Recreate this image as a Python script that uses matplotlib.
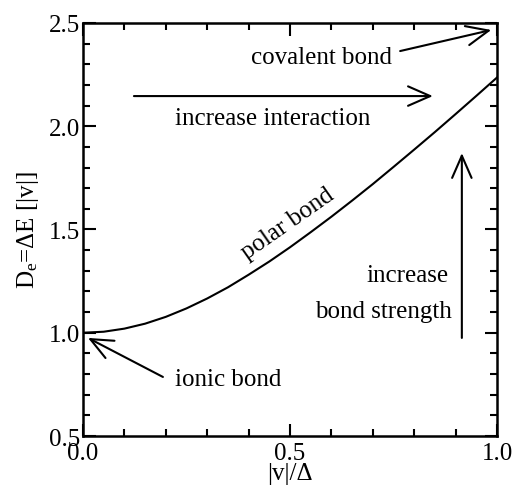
import numpy as np
import matplotlib
matplotlib.use("Agg")
import matplotlib.pyplot as plt
from matplotlib.ticker import MultipleLocator

plt.rcParams['font.family'] = ['Liberation Serif', 'DejaVu Serif']
plt.rcParams['mathtext.fontset'] = 'custom'
plt.rcParams['mathtext.rm'] = 'Liberation Serif'
plt.rcParams['mathtext.it'] = 'Liberation Serif:italic'

# curve values
x_vals = [0.0, 0.05, 0.1, 0.15, 0.2, 0.25, 0.3, 0.35, 0.4, 0.45, 0.5,
          0.55, 0.6, 0.65, 0.7, 0.75, 0.8, 0.85, 0.9, 0.95, 1.0]
y_vals = [1.0, 1.005, 1.02, 1.044, 1.077, 1.118, 1.166, 1.22, 1.281, 1.345, 1.414,
          1.487, 1.562, 1.64, 1.72, 1.803, 1.887, 1.972, 2.059, 2.147, 2.236]

x_ticks = [0.0, 0.5, 1.0]
y_ticks = [0.5, 1.0, 1.5, 2.0, 2.5]

fs = 18

fig = plt.figure(figsize=(5.14, 4.89), dpi=100)
ax = fig.add_axes([0.1615, 0.1063, 0.8055, 0.8447])

ax.plot(x_vals, y_vals, color='black', lw=1.5)

ax.set_xlim(0, 1)
ax.set_ylim(0.5, 2.5)
ax.set_xticks(x_ticks)
ax.set_yticks(y_ticks)
ax.xaxis.set_minor_locator(MultipleLocator(0.1))
ax.yaxis.set_minor_locator(MultipleLocator(0.1))
ax.tick_params(which='both', direction='in', top=True, right=True, width=1.5, labelsize=fs)
ax.tick_params(which='major', length=9)
ax.tick_params(which='minor', length=5)
ax.tick_params(axis='y', pad=2)
ax.tick_params(axis='x', pad=4)
for s in ax.spines.values():
    s.set_linewidth(1.8)

ax.set_xlabel('|v|/Δ', fontsize=fs, labelpad=-1)
ax.set_ylabel('D$_\\mathrm{e}$=ΔE [|v|]', fontsize=fs, labelpad=6)

arr = dict(arrowstyle='->, head_length=0.8, head_width=0.35', color='black', lw=1.5,
           shrinkA=0, shrinkB=0, mutation_scale=20)

# covalent bond
ax.text(0.577, 2.335, 'covalent bond', fontsize=fs, ha='center', va='center')
ax.annotate('', xy=(0.986, 2.466), xytext=(0.766, 2.364), arrowprops=arr)

# increase interaction
ax.annotate('', xy=(0.845, 2.146), xytext=(0.123, 2.146), arrowprops=arr)
ax.text(0.459, 2.04, 'increase interaction', fontsize=fs, ha='center', va='center')

# polar bond
ax.text(0.495, 1.53, 'polar bond', fontsize=fs, ha='center', va='center', rotation=35)

# bond strength
ax.annotate('', xy=(0.915, 1.87), xytext=(0.915, 0.975), arrowprops=arr)
ax.text(0.882, 1.28, 'increase', fontsize=fs, ha='right', va='center')
ax.text(0.891, 1.105, 'bond strength', fontsize=fs, ha='right', va='center')

# ionic bond
ax.annotate('', xy=(0.012, 0.975), xytext=(0.193, 0.786), arrowprops=arr)
ax.text(0.222, 0.776, 'ionic bond', fontsize=fs, ha='left', va='center')

fig.savefig('out.png', dpi=100)
